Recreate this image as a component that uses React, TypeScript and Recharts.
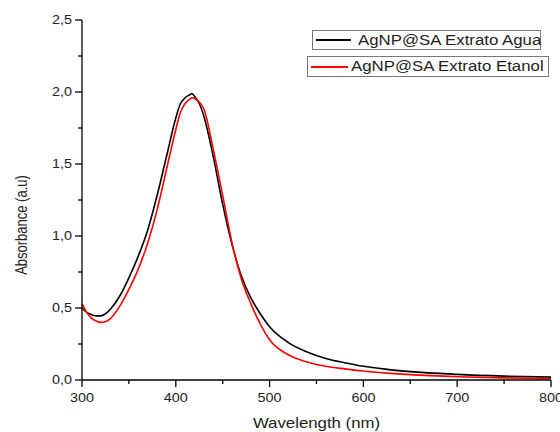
import { LineChart, Line, XAxis, YAxis } from "recharts";

const WAVELENGTHS = [
  300, 305, 310, 315, 320, 325, 330, 340, 350, 360, 370, 380, 390, 400, 405, 410, 413, 415, 417, 420,
  425, 430, 440, 450, 460, 470, 480, 490, 500, 520, 540, 560, 580, 600, 625, 650, 700, 750, 800,
];

const AGUA = [
  0.5, 0.47, 0.455, 0.445, 0.445, 0.46, 0.49, 0.58, 0.71, 0.86, 1.04, 1.28, 1.55, 1.82, 1.92, 1.96, 1.975, 1.98,
  1.99, 1.97, 1.92, 1.83, 1.55, 1.22, 0.94, 0.72, 0.57, 0.46, 0.37, 0.26, 0.195, 0.15, 0.12, 0.095, 0.074,
  0.058, 0.039, 0.027, 0.02,
];

const ETANOL = [
  0.53, 0.47, 0.43, 0.41, 0.4, 0.405, 0.425, 0.51, 0.63, 0.77, 0.95, 1.18, 1.46, 1.74, 1.86, 1.92, 1.94, 1.95,
  1.96, 1.955, 1.93, 1.88, 1.6, 1.28, 0.95, 0.7, 0.53, 0.39, 0.28, 0.175, 0.125, 0.095, 0.077, 0.062, 0.048,
  0.037, 0.023, 0.015, 0.01,
];

const X_TICKS = [300, 350, 400, 450, 500, 550, 600, 650, 700, 750, 800];
const Y_TICKS = [0, 0.25, 0.5, 0.75, 1, 1.25, 1.5, 1.75, 2, 2.25, 2.5];

const SERIES = [
  { key: "agua", name: "AgNP@SA Extrato Agua", color: "#000000" },
  { key: "etanol", name: "AgNP@SA Extrato Etanol", color: "#ff0000" },
];

const FONT = "'Liberation Sans', Arial, sans-serif";
const STRETCH = 1.2; // the original image is stretched horizontally

const data = WAVELENGTHS.map((w, i) => ({ w, agua: AGUA[i], etanol: ETANOL[i] }));

const XTick = ({ x, y, payload }: any) => {
  const major = payload.value % 100 === 0;
  return (
    <g>
      <line x1={x} x2={x} y1={y} y2={y + (major ? 7 : 4)} stroke="#000" strokeWidth={1.3} />
      {major && (
        <text
          transform={`translate(${x},${y + 22}) scale(${STRETCH},1)`}
          textAnchor="middle"
          fontFamily={FONT}
          fontSize={12}
          fill="#222"
        >
          {payload.value}
        </text>
      )}
    </g>
  );
};

const YTick = ({ x, y, payload }: any) => {
  const major = Math.abs((payload.value * 2) % 1) < 1e-6;
  return (
    <g>
      <line x1={x - (major ? 7 : 4)} x2={x} y1={y} y2={y} stroke="#000" strokeWidth={1.3} />
      {major && (
        <text
          transform={`translate(${x - 10},${y + 4}) scale(${STRETCH},1)`}
          textAnchor="end"
          fontFamily={FONT}
          fontSize={12}
          fill="#222"
        >
          {payload.value.toFixed(1).replace(".", ",")}
        </text>
      )}
    </g>
  );
};

const XTitle = ({ viewBox }: any) => (
  <text
    transform={`translate(${viewBox.x + viewBox.width / 2},${viewBox.y + 48}) scale(${STRETCH},1)`}
    textAnchor="middle"
    fontFamily={FONT}
    fontSize={14}
    fill="#222"
  >
    Wavelength (nm)
  </text>
);

const YTitle = ({ viewBox }: any) => (
  <text
    transform={`translate(27,${viewBox.y + 205}) scale(${STRETCH},1) rotate(-90)`}
    textAnchor="middle"
    fontFamily={FONT}
    fontSize={13}
    fill="#222"
  >
    Absorbance (a.u)
  </text>
);

const LEGEND_BOXES = [
  { left: 312, top: 30, width: 229, height: 20, lineLeft: 3, lineWidth: 35, textLeft: 45 },
  { left: 307, top: 56, width: 242, height: 21, lineLeft: 3, lineWidth: 37, textLeft: 43 },
];

export default function App() {
  return (
    <div style={{ position: "absolute", left: 0, top: 0, width: 560, height: 432, background: "#fff" }}>
      <LineChart width={560} height={432} data={data} margin={{ top: 20, right: 9, bottom: 0, left: 0 }}>
        <XAxis
          dataKey="w"
          type="number"
          domain={[300, 800]}
          ticks={X_TICKS}
          interval={0}
          height={52}
          tickSize={0}
          tickMargin={0}
          tickLine={false}
          axisLine={{ stroke: "#000", strokeWidth: 1.3 }}
          tick={XTick}
          label={{ content: XTitle }}
        />
        <YAxis
          type="number"
          domain={[0, 2.5]}
          ticks={Y_TICKS}
          interval={0}
          width={82}
          tickSize={0}
          tickMargin={0}
          tickLine={false}
          axisLine={{ stroke: "#000", strokeWidth: 1.3 }}
          tick={YTick}
          label={{ content: YTitle }}
        />
        {SERIES.map((s) => (
          <Line
            key={s.key}
            type="monotone"
            dataKey={s.key}
            name={s.name}
            stroke={s.color}
            strokeWidth={1.6}
            dot={false}
            isAnimationActive={false}
          />
        ))}
      </LineChart>
      {SERIES.map((s, i) => {
        const b = LEGEND_BOXES[i];
        return (
          <div
            key={s.key}
            style={{
              position: "absolute",
              left: b.left,
              top: b.top,
              width: b.width,
              height: b.height,
              border: "1px solid #777",
              boxSizing: "border-box",
              background: "#fff",
            }}
          >
            <div
              style={{
                position: "absolute",
                left: b.lineLeft,
                top: b.height / 2 - 2,
                width: b.lineWidth,
                height: 2,
                background: s.color,
              }}
            />
            <div
              style={{
                position: "absolute",
                left: b.textLeft,
                top: 0,
                lineHeight: `${b.height - 2}px`,
                fontFamily: FONT,
                fontSize: 14,
                color: "#222",
                whiteSpace: "nowrap",
                transform: `scaleX(${STRETCH})`,
                transformOrigin: "left center",
              }}
            >
              {s.name}
            </div>
          </div>
        );
      })}
    </div>
  );
}
